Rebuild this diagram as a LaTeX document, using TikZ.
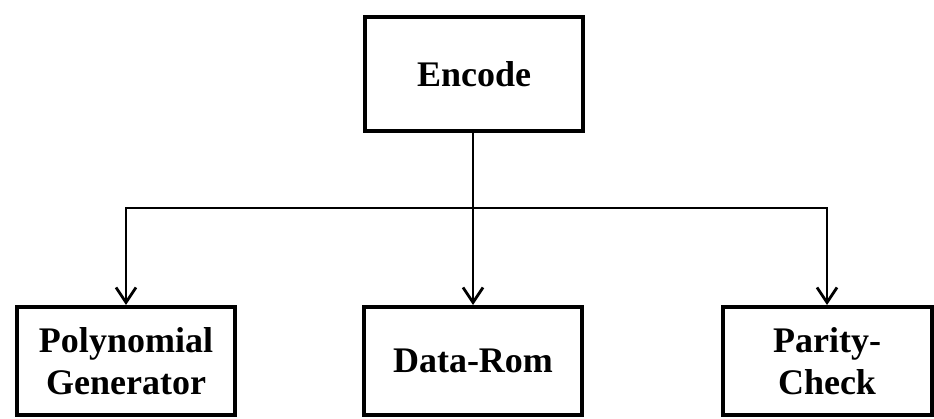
\documentclass[tikz,border=0pt]{standalone}
\usepackage{fontspec}
\setmainfont{Liberation Serif}
\usetikzlibrary{arrows.meta}
\begin{document}
\begin{tikzpicture}[x=1pt,y=1pt,
  block/.style={draw=black, line width=4pt, inner sep=0pt, align=center,
    font=\fontsize{36}{42}\selectfont\bfseries, minimum height=108pt},
  link/.style={line width=2.8pt},
  arrowlink/.style={link, -{Straight Barb[length=15pt,width=20pt,line width=2.8pt]}}]
  \useasboundingbox (0,0) rectangle (934,419);
  % top-level block
  \node[block, minimum width=218pt, minimum height=114pt] (enc) at (474,345) {Encode};
  % child blocks
  \node[block, minimum width=218pt] (poly) at (126,58) {Polynomial\\Generator};
  \node[block, minimum width=218pt] (rom) at (473,58) {Data-Rom};
  \node[block, minimum width=209pt] (par) at (827,58) {Parity-\\Check};
  % distribution bus
  \coordinate (bus) at (473,211);
  \draw[link] (bus |- enc.south) -- (bus);
  \draw[arrowlink] (bus) -| (poly.north);
  \draw[arrowlink] (bus) -- (rom.north);
  \draw[arrowlink] (bus) -| (par.north);
\end{tikzpicture}
\end{document}
